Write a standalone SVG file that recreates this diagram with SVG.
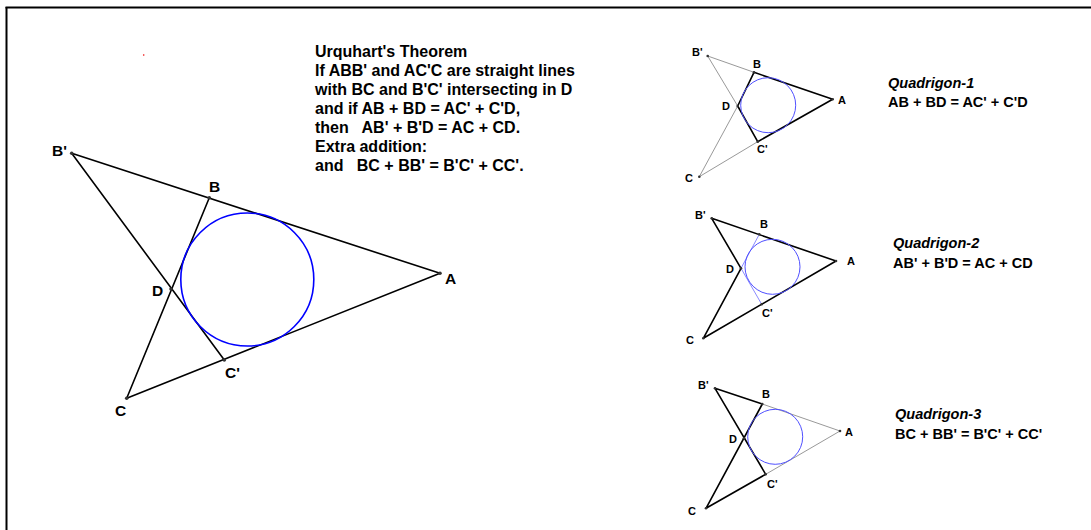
<svg xmlns="http://www.w3.org/2000/svg" width="1091" height="530" viewBox="0 0 1091 530">
<style>
text{font-family:"Liberation Sans",Arial,sans-serif;font-weight:bold;fill:#000}
.lbl{font-size:15.5px;fill:#333}
.slbl{font-size:11px;fill:#111}
.thm{font-size:16px}
.q{font-size:14.5px}
.qi{font-size:14.5px;font-style:italic}
.med{stroke:#000;stroke-width:1.6;fill:none;stroke-linecap:round;stroke-linejoin:round}
.thin{stroke:#999;stroke-width:1;fill:none}
.bthin{stroke:#8a8aff;stroke-width:1;fill:none}
.circ{stroke:#0000ff;stroke-width:1.6;fill:none}
.scirc{stroke:#5050ff;stroke-width:1;fill:none}
.pt{fill:#333}
</style>
<rect x="0" y="0" width="1091" height="530" fill="#fff"/>
<g id="frame">
<line x1="5.5" y1="7.5" x2="1091" y2="7.5" stroke="#000" stroke-width="2"/>
<line x1="6.5" y1="7" x2="6.5" y2="530" stroke="#000" stroke-width="2"/>
<circle cx="143.7" cy="55" r="0.8" fill="#e00"/>
</g>
<g id="theorem-text" class="thm">
<text x="315" y="57">Urquhart's Theorem</text>
<text x="315" y="76">If ABB' and AC'C are straight lines</text>
<text x="315" y="95">with BC and B'C' intersecting in D</text>
<text x="315" y="114">and if AB + BD = AC' + C'D,</text>
<text x="315" y="133" xml:space="preserve">then   AB' + B'D = AC + CD.</text>
<text x="315" y="152">Extra addition:</text>
<text x="315" y="171" xml:space="preserve">and   BC + BB' = B'C' + CC'.</text>
</g>
<g id="main-figure">
<g id="main-connectors">
<line class="med" x1="71.7" y1="153.3" x2="440" y2="273.3"/>
<line class="med" x1="71.7" y1="153.3" x2="224.3" y2="360"/>
<line class="med" x1="209.3" y1="197.7" x2="126.7" y2="398.3"/>
<line class="med" x1="126.7" y1="398.3" x2="440" y2="273.3"/>
</g>
<circle class="circ" cx="247.3" cy="279.5" r="66.5"/>
<g id="main-points">
<circle class="pt" cx="71.7" cy="153.3" r="1.8"/>
<circle class="pt" cx="209.3" cy="197.7" r="1.8"/>
<circle class="pt" cx="440" cy="273.3" r="1.8"/>
<circle class="pt" cx="224.3" cy="360" r="1.8"/>
<circle class="pt" cx="126.7" cy="398.3" r="1.8"/>
<circle class="pt" cx="171" cy="289" r="1.8"/>
</g>
<g id="main-labels" class="lbl">
<text x="52" y="156">B'</text>
<text x="209" y="192">B</text>
<text x="445" y="284">A</text>
<text x="152" y="296">D</text>
<text x="225" y="378">C'</text>
<text x="115" y="416">C</text>
</g>
</g>
<g id="quadrigon-1">
<g class="connectors">
<line class="thin" x1="707.7" y1="56" x2="754" y2="72.3"/>
<line class="thin" x1="707.7" y1="56" x2="737.7" y2="106"/>
<line class="thin" x1="737.7" y1="106" x2="699.3" y2="176.7"/>
<line class="thin" x1="699.3" y1="176.7" x2="757.7" y2="141.7"/>
<polygon class="med" points="832.7,99.3 754,72.3 737.7,106 757.7,141.7"/>
</g>
<circle class="scirc" cx="768.2" cy="105.2" r="27.5"/>
<circle class="pt" cx="707.7" cy="56" r="1.3"/>
<circle class="pt" cx="754" cy="72.3" r="1.3"/>
<circle class="pt" cx="832.7" cy="99.3" r="1.3"/>
<circle class="pt" cx="737.7" cy="106" r="1.3"/>
<circle class="pt" cx="757.7" cy="141.7" r="1.3"/>
<circle class="pt" cx="699.3" cy="176.7" r="1.3"/>
<g class="slbl">
<text x="692" y="56">B'</text>
<text x="753" y="68">B</text>
<text x="838" y="104">A</text>
<text x="722" y="110">D</text>
<text x="757" y="153">C'</text>
<text x="685" y="182">C</text>
</g>
<text class="qi" x="888" y="88">Quadrigon-1</text>
<text class="q" x="888" y="107">AB + BD = AC' + C'D</text>
</g>
<g id="quadrigon-2">
<g class="connectors">
<line class="bthin" x1="759.3" y1="234.3" x2="741" y2="268.3"/>
<line class="bthin" x1="741" y1="268.3" x2="761.7" y2="304.3"/>
<polygon class="med" points="836,261 711.7,218.3 741,268.3 703.3,338.3"/>
</g>
<circle class="scirc" cx="772.5" cy="266.8" r="27.5"/>
<circle class="pt" cx="711.7" cy="218.3" r="1.3"/>
<circle class="pt" cx="759.3" cy="234.3" r="1.3"/>
<circle class="pt" cx="836" cy="261" r="1.3"/>
<circle class="pt" cx="741" cy="268.3" r="1.3"/>
<circle class="pt" cx="761.7" cy="304.3" r="1.3"/>
<circle class="pt" cx="703.3" cy="338.3" r="1.3"/>
<g class="slbl">
<text x="695" y="219">B'</text>
<text x="760" y="228">B</text>
<text x="847" y="265">A</text>
<text x="726" y="273">D</text>
<text x="762" y="317">C'</text>
<text x="686" y="344">C</text>
</g>
<text class="qi" x="893" y="248">Quadrigon-2</text>
<text class="q" x="893" y="268">AB' + B'D = AC + CD</text>
</g>
<g id="quadrigon-3">
<g class="connectors">
<line class="thin" x1="762.3" y1="404" x2="840" y2="431"/>
<line class="thin" x1="840" y1="431" x2="765.7" y2="474.3"/>
<polyline class="med" points="715,388.3 762.3,404 706,508.3 765.7,474.3 715,388.3"/>
</g>
<circle class="scirc" cx="775.2" cy="436.8" r="27.5"/>
<circle class="pt" cx="715" cy="388.3" r="1.3"/>
<circle class="pt" cx="762.3" cy="404" r="1.3"/>
<circle class="pt" cx="840" cy="431" r="1.3"/>
<circle class="pt" cx="744" cy="438.3" r="1.3"/>
<circle class="pt" cx="765.7" cy="474.3" r="1.3"/>
<circle class="pt" cx="706" cy="508.3" r="1.3"/>
<g class="slbl">
<text x="698" y="389">B'</text>
<text x="762" y="398">B</text>
<text x="845" y="436">A</text>
<text x="729" y="443">D</text>
<text x="767" y="488">C'</text>
<text x="688" y="515">C</text>
</g>
<text class="qi" x="895" y="419">Quadrigon-3</text>
<text class="q" x="895" y="439">BC + BB' = B'C' + CC'</text>
</g>
</svg>
